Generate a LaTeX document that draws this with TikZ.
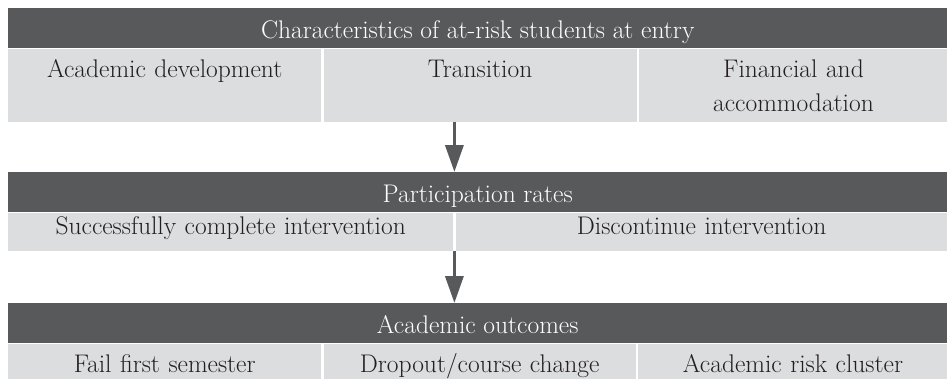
\documentclass[tikz,border=0pt]{standalone}
\usepackage{fontspec}
\usetikzlibrary{arrows.meta, positioning, calc}

\definecolor{barGray}{HTML}{58595B}
\definecolor{cellGray}{HTML}{DCDDDE}
\definecolor{inkGray}{HTML}{231F20}

\tikzset{
  bar/.style={fill=barGray, text=white, inner sep=0pt, minimum width=939pt,
    text height=30pt, text depth=10pt, anchor=north west, font=\fontsize{25.5}{34}\selectfont},
  cell/.style={fill=cellGray, text=inkGray, inner sep=0pt, align=center,
    font=\fontsize{25.5}{34}\selectfont},
  rowtall/.style={text height=29pt, text depth=44pt},
  rowmid/.style={text height=22pt, text depth=16.5pt},
  rowlow/.style={text height=29pt, text depth=6pt},
  flow/.style={draw=barGray, line width=3.5pt, -{Triangle[width=18pt, length=27pt]}}
}

\begin{document}
\begin{tikzpicture}[x=1pt, y=-1pt]
            \useasboundingbox (0, 0) rectangle (947, 378);
            % at entry
            \node[bar] (chars) at (8, 8) {Characteristics of at-risk students at entry};
            \node[cell, rowtall, text width=313pt, anchor=north west] at (chars.south west) (acad) {Academic development};
            \node[cell, rowtall, text width=313pt, right=2pt of acad] (trans) {Transition};
            \node[cell, rowtall, text width=309pt, right=2pt of trans] (fin) {Financial and\\accommodation};
            % participation
            \node[bar] (rates) at (8, 172) {Participation rates};
            \node[cell, rowmid, text width=445pt, anchor=north west] at (rates.south west) (succ) {Successfully complete intervention};
            \node[cell, rowmid, text width=492pt, right=2pt of succ] (disc) {Discontinue intervention};
            % outcomes
            \node[bar] (outc) at (8, 303) {Academic outcomes};
            \node[cell, rowlow, text width=313pt, anchor=north west] at (outc.south west) (fail) {Fail first semester};
            \node[cell, rowlow, text width=312pt, right=2pt of fail] (drop) {Dropout/course change};
            \node[cell, rowlow, text width=310pt, right=2pt of drop] (risk) {Academic risk cluster};
            \coordinate (split) at ($(succ.east)!0.5!(disc.west)$);
            \draw[flow] (split |- trans.south) -- (split |- rates.north);
            \draw[flow] (split |- succ.south) -- (split |- outc.north);
        \end{tikzpicture}
\end{document}
